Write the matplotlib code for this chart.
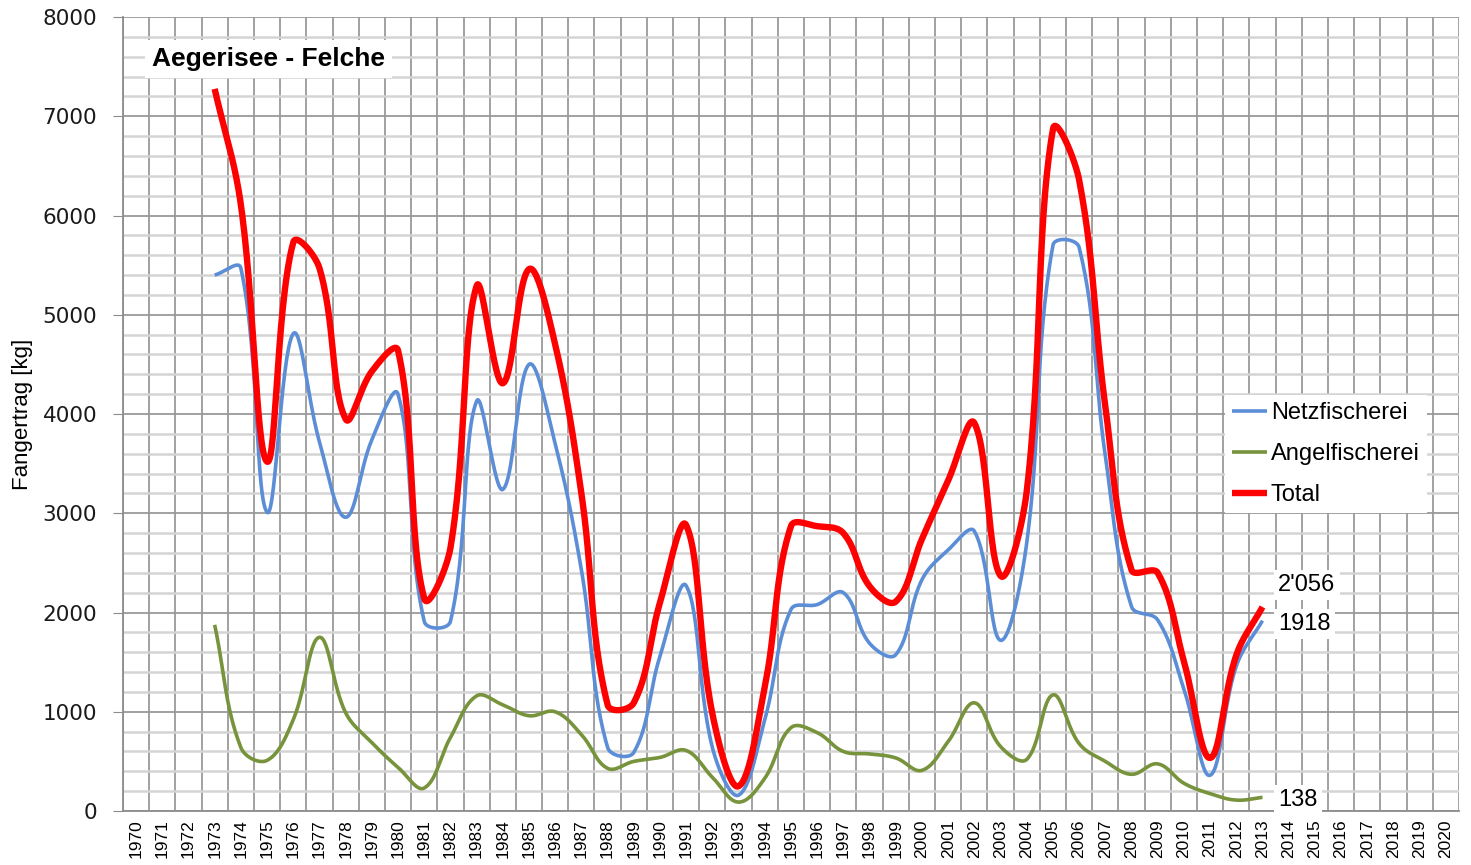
import numpy as np
import matplotlib
matplotlib.use("Agg")
import matplotlib.pyplot as plt
from matplotlib.ticker import MultipleLocator, FixedLocator

# Kategorien der x-Achse (eine Spalte pro Jahr)
years = list(range(1970, 2021))
data_years = list(range(1973, 2014))

# Fangertrag [kg]
netz = [5400, 5470, 3010, 4810, 3720, 2960, 3740, 4200, 1910, 1910,
        4130, 3240, 4500, 3700, 2430, 640, 590, 1560, 2270, 640,
        160, 920, 2030, 2080, 2200, 1690, 1575, 2330, 2630, 2820,
        1720, 2700, 5700, 5680, 3580, 2060, 1925, 1230, 360, 1460,
        1918]
angel = [1876, 640, 510, 920, 1750, 990, 690, 440, 232, 740,
         1160, 1070, 960, 1000, 770, 430, 500, 540, 610, 340,
         90, 330, 840, 790, 600, 575, 535, 410, 700, 1090,
         650, 520, 1170, 680, 500, 370, 475, 280, 175, 110,
         138]
total = [7276, 6110, 3520, 5730, 5470, 3950, 4430, 4640, 2142, 2650,
         5290, 4310, 5460, 4700, 3200, 1070, 1090, 2100, 2880, 980,
         250, 1250, 2870, 2870, 2800, 2265, 2110, 2740, 3330, 3910,
         2370, 3220, 6870, 6360, 4080, 2430, 2400, 1510, 535, 1570,
         2056]

end_labels = ["2'056", "1918", "138"]

BLUE = "#5B8ED6"
GREEN = "#77933C"
RED = "#FF0000"


def smooth(ax, xs, ys, f=0.38, n=30):
    """Geglaettete Linie wie in Excel: Bezier im Bildraum, Henkel
    nach Sehnenlaengen gewichtet."""
    p = ax.transData.transform(np.column_stack([xs, ys]).astype(float))
    pad = np.vstack([p[0], p, p[-1]])
    t = np.linspace(0, 1, n, endpoint=False)[:, None]
    pts = []
    for i in range(len(p) - 1):
        q0, q1, q2, q3 = pad[i], pad[i + 1], pad[i + 2], pad[i + 3]
        d01 = np.hypot(*(q1 - q0))
        d12 = np.hypot(*(q2 - q1))
        d23 = np.hypot(*(q3 - q2))
        c1 = q1 + (q2 - q0) * f * d12 / (d01 + d12)
        c2 = q2 - (q3 - q1) * f * d12 / (d12 + d23)
        seg = ((1 - t) ** 3) * q1 + 3 * ((1 - t) ** 2) * t * c1 \
            + 3 * (1 - t) * t ** 2 * c2 + t ** 3 * q2
        pts.append(seg)
    pts.append(p[-1][None, :])
    pts = ax.transData.inverted().transform(np.vstack(pts))
    return pts[:, 0], pts[:, 1]


plt.rcParams["font.family"] = ["Liberation Sans", "DejaVu Sans"]

fig = plt.figure(figsize=(14.71, 8.65), dpi=100)
ax = fig.add_axes([0.0836, 0.0624, 0.9082, 0.9179])
ax.set_xlim(-0.5, len(years) - 0.5)
ax.set_ylim(0, 8000)

xpos = [y - years[0] for y in data_years]

for vals, col, lw, name in [(netz, BLUE, 2.6, "Netzfischerei"),
                            (angel, GREEN, 2.6, "Angelfischerei"),
                            (total, RED, 4.6, "Total")]:
    sx, sy = smooth(ax, xpos, vals)
    ax.plot(sx, sy, color=col, lw=lw, label=name, solid_capstyle="butt",
            zorder=3)

ax.xaxis.set_major_locator(FixedLocator(range(len(years))))
ax.set_xticklabels([str(y) for y in years], rotation=90, fontsize=12.5)
ax.xaxis.set_minor_locator(FixedLocator(np.arange(-0.5, len(years), 1)))
ax.tick_params(axis="x", which="both", length=0, pad=6)

ax.yaxis.set_major_locator(MultipleLocator(1000))
ax.yaxis.set_minor_locator(MultipleLocator(200))
ax.tick_params(axis="y", which="major", length=7, color="#8c8c8c", pad=11.5)
ax.tick_params(axis="y", which="minor", length=0)
for lab in ax.get_yticklabels():
    lab.set_fontfamily("DejaVu Sans")
    lab.set_fontsize(15.5)
    lab.set_color("#1a1a1a")

ax.grid(True, which="minor", axis="y", color="#d4d4d4", lw=1.8, zorder=0)
ax.grid(True, which="major", axis="y", color="#9a9a9a", lw=1.3, zorder=0)
ax.grid(True, which="minor", axis="x", color="#9a9a9a", lw=1.3, zorder=0)
ax.set_axisbelow(True)

for s in ["top", "right"]:
    ax.spines[s].set_visible(False)
ax.spines["left"].set_color("#8c8c8c")
ax.spines["bottom"].set_color("#8c8c8c")
ax.spines["left"].set_linewidth(1.3)
ax.spines["bottom"].set_linewidth(1.3)

ax.set_ylabel("Fangertrag [kg]", fontsize=16, labelpad=7,
              family=["Liberation Sans Narrow", "Liberation Sans"])

ax.text(0.6, 7580, "Aegerisee - Felche", fontsize=19, fontweight="bold",
        va="center", ha="left", zorder=5,
        bbox=dict(facecolor="white", edgecolor="none", pad=5))

last = xpos[-1]
for val, txt in [(total[-1] + 221, end_labels[0]),
                 (netz[-1] - 34, end_labels[1]),
                 (angel[-1] - 27, end_labels[2])]:
    ax.text(last + 0.6, val, txt, fontsize=17, va="center", ha="left",
            zorder=5, bbox=dict(facecolor="white", edgecolor="none", pad=3))

leg = ax.legend(loc="upper left", bbox_to_anchor=(0.8159, 0.5388), fontsize=17,
                frameon=True, fancybox=False, handlelength=1.5,
                handletextpad=0.15, labelspacing=0.8, borderpad=0.3)
leg.get_frame().set_edgecolor("none")
leg.get_frame().set_facecolor("white")
leg.get_frame().set_alpha(1)

fig.savefig("out.png", dpi=100)
